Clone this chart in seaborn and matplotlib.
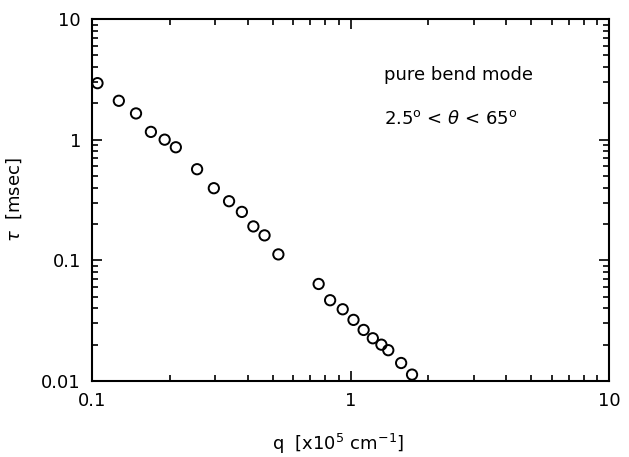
import matplotlib
matplotlib.use("Agg")
import matplotlib.pyplot as plt
import matplotlib.ticker as mticker
import seaborn as sns
import pandas as pd

q = [0.105, 0.127, 0.148, 0.169, 0.191, 0.211, 0.255, 0.296, 0.339, 0.380,
     0.421, 0.465, 0.526, 0.753, 0.834, 0.933, 1.027, 1.124, 1.22, 1.317,
     1.40, 1.57, 1.73]
tau = [2.94, 2.10, 1.65, 1.16, 1.0, 0.865, 0.569, 0.396, 0.309, 0.252,
       0.191, 0.161, 0.112, 0.0637, 0.0467, 0.0393, 0.0321, 0.0265, 0.0226, 0.0200,
       0.0180, 0.0141, 0.0113]
xticks = [0.1, 1, 10]
xticklabels = ["0.1", "1", "10"]
yticks = [0.01, 0.1, 1, 10]
yticklabels = ["0.01", "0.1", "1", "10"]

df = pd.DataFrame({"q": q, "tau": tau})

sns.set_style("ticks")
plt.rcParams['font.family'] = ['DejaVu Sans']
plt.rcParams['text.color'] = 'black'
plt.rcParams['axes.labelcolor'] = 'black'
plt.rcParams['xtick.color'] = 'black'
plt.rcParams['ytick.color'] = 'black'

W, H = 629, 457
L, R, T, B = 92, 609, 19, 381
fig = plt.figure(figsize=(W / 100, H / 100), dpi=100)
ax = fig.add_axes([L / W, 1 - B / H, (R - L) / W, (B - T) / H])
sns.scatterplot(data=df, x="q", y="tau", ax=ax, marker="o", s=55,
                facecolor="none", edgecolor="black", linewidth=1.4)
ax.set_xscale("log")
ax.set_yscale("log")
ax.set_xlim(0.1, 10)
ax.set_ylim(0.01, 10)
ax.set_xticks(xticks)
ax.set_xticklabels(xticklabels)
ax.set_yticks(yticks)
ax.set_yticklabels(yticklabels)
ax.xaxis.set_minor_locator(mticker.LogLocator(base=10, subs=range(2, 10)))
ax.yaxis.set_minor_locator(mticker.LogLocator(base=10, subs=range(2, 10)))
ax.xaxis.set_minor_formatter(mticker.NullFormatter())
ax.yaxis.set_minor_formatter(mticker.NullFormatter())
ax.tick_params(which="both", direction="in", top=True, right=True, width=1.2,
               colors="black", labelcolor="black")
ax.tick_params(which="major", length=7, labelsize=13, pad=8)
ax.tick_params(which="minor", length=4.5)
for sp in ax.spines.values():
    sp.set_linewidth(1.5)
    sp.set_color("black")

ax.set_xlabel(r"q  [x10$^{5}$ cm$^{-1}$]", fontsize=13, color="black")
ax.set_ylabel(r"$\tau$  [msec]", fontsize=13, color="black")
ax.xaxis.set_label_coords((338 - L) / (R - L), (B - 432) / (B - T))
ax.yaxis.set_label_coords((24 - L) / (R - L), 0.5)

ax.text(0.565, 0.845, "pure bend mode", transform=ax.transAxes, fontsize=13,
        va="center", ha="left", color="black")
ax.text(0.565, 0.725, r"2.5$^{\mathrm{o}}$ < $\theta$ < 65$^{\mathrm{o}}$", transform=ax.transAxes,
        fontsize=13, va="center", ha="left", color="black")

fig.savefig("out.png", dpi=100)
